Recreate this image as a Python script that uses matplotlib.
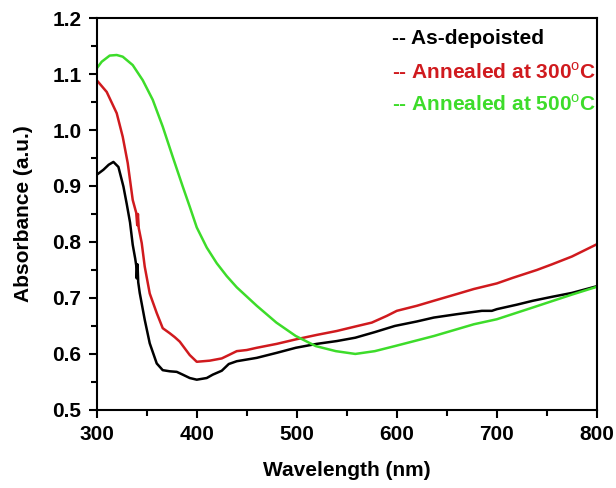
import matplotlib
matplotlib.use("Agg")
import matplotlib.pyplot as plt
from matplotlib.ticker import MultipleLocator

plt.rcParams['font.family'] = ['Liberation Sans', 'DejaVu Sans']
plt.rcParams['mathtext.fontset'] = 'custom'
plt.rcParams['mathtext.rm'] = 'Liberation Sans'
plt.rcParams['mathtext.bf'] = 'Liberation Sans:bold'

# As-deposited
wl_black = [300, 306.7, 312, 316.7, 321.7, 326.7, 330, 333.3, 336, 338.5, 339.5, 340, 340.8, 341.5, 343,
            348, 353, 360, 366, 373, 380, 386, 393, 400, 410, 416, 425, 432, 440, 460, 480, 499, 520,
            540, 558.5, 578, 598, 620, 637, 660, 685, 695, 700, 720, 736, 755, 775, 800]
ab_black = [0.920, 0.929, 0.938, 0.943, 0.934, 0.899, 0.868, 0.835, 0.795, 0.770, 0.758, 0.735, 0.760, 0.728, 0.709,
            0.661, 0.619, 0.583, 0.571, 0.569, 0.568, 0.563, 0.557, 0.554, 0.557, 0.563, 0.570, 0.582, 0.587, 0.593, 0.602, 0.611, 0.618,
            0.623, 0.629, 0.639, 0.650, 0.658, 0.665, 0.671, 0.677, 0.677, 0.680, 0.688, 0.695, 0.702, 0.709, 0.721]

# Annealed at 300 C
wl_red = [300, 310, 320, 326, 331, 336, 339.5, 340.5, 341.2, 342, 345, 348, 353, 360, 366, 373, 378, 383,
          393, 400, 413, 425, 432, 440, 450, 460, 480, 499, 520, 540, 558.5, 575, 590, 600, 620, 637,
          660, 677, 700, 716, 740, 755, 775, 800]
ab_red = [1.089, 1.068, 1.030, 0.988, 0.941, 0.875, 0.852, 0.830, 0.850, 0.825, 0.798, 0.756, 0.708, 0.673, 0.646, 0.637, 0.630, 0.622,
          0.598, 0.586, 0.588, 0.592, 0.598, 0.605, 0.607, 0.611, 0.618, 0.626, 0.634, 0.641, 0.649, 0.656, 0.668, 0.677, 0.686, 0.695,
          0.707, 0.716, 0.726, 0.736, 0.750, 0.760, 0.774, 0.796]

# Annealed at 500 C
wl_green = [300, 305, 313, 320, 326, 336, 346, 356, 366, 376, 386, 393, 400, 410, 420, 430, 440, 460, 479.6,
            499, 519, 539, 558.5, 578, 598, 637, 677, 700, 736, 775, 800]
ab_green = [1.110, 1.122, 1.133, 1.134, 1.131, 1.116, 1.089, 1.054, 1.006, 0.952, 0.899, 0.863, 0.826, 0.790, 0.762, 0.739, 0.719, 0.686, 0.656,
            0.632, 0.614, 0.605, 0.600, 0.605, 0.614, 0.632, 0.653, 0.662, 0.683, 0.706, 0.720]

labels = ["-- As-depoisted", "-- Annealed at 300$^{\\mathrm{o}}$C", "-- Annealed at 500$^{\\mathrm{o}}$C"]
colors = ["#000000", "#d01a1e", "#3ddc2a"]

fig = plt.figure(figsize=(6.16, 4.88), dpi=100)
ax = fig.add_axes([0.157, 0.16, 0.812, 0.803])

for wl, ab, c in [(wl_black, ab_black, colors[0]), (wl_red, ab_red, colors[1]), (wl_green, ab_green, colors[2])]:
    ax.plot(wl, ab, color=c, lw=1.8)

ax.set_xlim(300, 800)
ax.set_ylim(0.5, 1.2)
ax.xaxis.set_major_locator(MultipleLocator(100))
ax.xaxis.set_minor_locator(MultipleLocator(50))
ax.yaxis.set_major_locator(MultipleLocator(0.1))
ax.yaxis.set_minor_locator(MultipleLocator(0.05))
ax.tick_params(which='major', direction='out', length=6, width=1.5, labelsize=15, pad=5)
ax.tick_params(which='minor', direction='out', length=4, width=1.5)
for lab in ax.get_xticklabels() + ax.get_yticklabels():
    lab.set_fontweight('bold')
for s in ax.spines.values():
    s.set_linewidth(1.5)

ax.set_xlabel("Wavelength (nm)", fontsize=15, fontweight='bold', labelpad=12)
ax.set_ylabel("Absorbance (a.u.)", fontsize=15, fontweight='bold', labelpad=14)

ys = [0.949, 0.862, 0.780]
for lab, c, y in zip(labels, colors, ys):
    ax.text(0.59, y, lab, transform=ax.transAxes, color=c, fontsize=15, fontweight='bold', va='center')

fig.savefig("out.png", dpi=100)
